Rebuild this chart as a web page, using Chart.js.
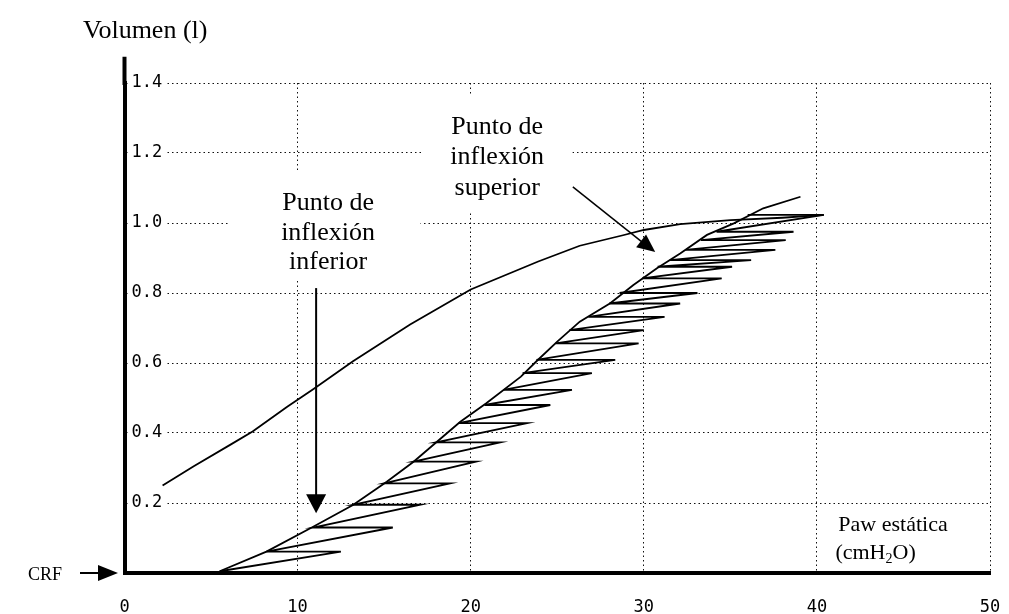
<!DOCTYPE html>
<html><head><meta charset="utf-8">
<script src="https://cdn.jsdelivr.net/npm/chart.js@4.4.1/dist/chart.umd.min.js"></script>
<style>html,body{margin:0;padding:0;background:#fff}</style>
</head><body>
<canvas id="c" width="1009" height="614" style="width:1009px;height:614px;display:block"></canvas>
<script>
// ---- Tick values / labels ----
const xTickValues = [0, 10, 20, 30, 40, 50];
const xTickLabels = ['0', '10', '20', '30', '40', '50'];
const yTickValues = [0.2, 0.4, 0.6, 0.8, 1.0, 1.2, 1.4];
const yTickLabels = ['0.2', '0.4', '0.6', '0.8', '1.0', '1.2', '1.4'];

// ---- Deflation limb (upper curve) ----
const deflationP = [2.2, 4.0, 6.1, 7.4, 9.4, 10.9, 13.2, 16.5, 20.0, 23.9, 26.3, 28.8, 30.0, 32.1, 35.0, 38.0, 40.4];
const deflationV = [0.25, 0.305, 0.366, 0.404, 0.475, 0.525, 0.605, 0.71, 0.81, 0.89, 0.935, 0.965, 0.98, 0.997, 1.008, 1.015, 1.023];

// ---- Inflation limb, static (leading) edge ----
const staticP = [5.5, 8.2, 10.9, 13.2, 15.15, 16.7, 18.05, 19.4, 20.9, 22.9, 23.8, 25.0, 26.3, 28.06, 29.4, 30.76, 32.1, 33.65, 35.2, 36.9, 39.05];
const staticV = [0.005, 0.061, 0.132, 0.194, 0.261, 0.318, 0.375, 0.432, 0.485, 0.561, 0.605, 0.661, 0.718, 0.771, 0.823, 0.871, 0.913, 0.966, 0.999, 1.042, 1.075];

// ---- Inflation steps (sawtooth): volume, static pressure, peak pressure ----
const stepV     = [0.061, 0.130, 0.195, 0.256, 0.318, 0.373, 0.428, 0.48, 0.523, 0.571, 0.609, 0.656, 0.694, 0.732, 0.77, 0.80, 0.842, 0.875, 0.894, 0.923, 0.951, 0.975, 1.023];
const stepLeftP = [8.2, 10.9, 13.2, 15.0, 16.7, 18.0, 19.3, 20.8, 21.9, 23.0, 23.8, 24.9, 25.7, 26.8, 28.0, 28.6, 29.9, 30.8, 31.5, 32.4, 33.3, 34.2, 36.0];
const stepTipP  = [12.5, 15.5, 17.1, 18.8, 20.3, 21.7, 23.25, 24.6, 25.85, 27.0, 28.35, 29.7, 30.0, 31.2, 32.1, 33.1, 34.5, 35.1, 36.2, 37.6, 38.2, 38.65, 40.4];

// ---- build point lists from the arrays ----
const deflationPts = deflationP.map((p, i) => ({x: p, y: deflationV[i]}));
const staticPts = staticP.map((p, i) => ({x: p, y: staticV[i]}));
const sawPts = [{x: staticP[0], y: staticV[0]}];
stepV.forEach((v, i) => { sawPts.push({x: stepTipP[i], y: v}); sawPts.push({x: stepLeftP[i], y: v}); });

const serif = '"Liberation Serif", "Times New Roman", serif';
const mono = '"DejaVu Sans Mono", monospace';

function arrowHead(ctx, x1, y1, x2, y2, len, half) {
  const a = Math.atan2(y2 - y1, x2 - x1);
  ctx.beginPath();
  ctx.moveTo(x2, y2);
  ctx.lineTo(x2 - len * Math.cos(a) + half * Math.sin(a), y2 - len * Math.sin(a) - half * Math.cos(a));
  ctx.lineTo(x2 - len * Math.cos(a) - half * Math.sin(a), y2 - len * Math.sin(a) + half * Math.cos(a));
  ctx.closePath();
  ctx.fill();
}

const annot = {
  id: 'annot',
  beforeDatasetsDraw(chart) {
    const {ctx, scales: {x, y}} = chart;
    ctx.save();
    ctx.fillStyle = '#fff';
    const boxes = [[5.98, 17.1, 1.143, 0.837], [17.25, 25.87, 1.366, 1.029]];
    boxes.forEach(b => {
      const x0 = x.getPixelForValue(b[0]), x1 = x.getPixelForValue(b[1]);
      const y0 = y.getPixelForValue(b[2]), y1 = y.getPixelForValue(b[3]);
      ctx.fillRect(x0, y0, x1 - x0, y1 - y0);
    });
    ctx.restore();
  },
  afterDraw(chart) {
    const {ctx, scales: {x, y}, chartArea} = chart;
    ctx.save();
    ctx.fillStyle = '#000';
    ctx.strokeStyle = '#000';
    ctx.lineWidth = 4;
    ctx.beginPath();
    ctx.moveTo(chartArea.left, y.getPixelForValue(1.4) + 2);
    ctx.lineTo(chartArea.left, y.getPixelForValue(1.475));
    ctx.stroke();

    ctx.font = '26px ' + serif;
    ctx.textBaseline = 'middle';
    ctx.textAlign = 'left';
    ctx.fillText('Volumen (l)', 83, 31);

    ctx.font = '18px ' + serif;
    ctx.textAlign = 'right';
    ctx.fillText('CRF', 62, y.getPixelForValue(0) + 2);
    const yc = y.getPixelForValue(0);
    ctx.lineWidth = 2;
    ctx.beginPath(); ctx.moveTo(80, yc); ctx.lineTo(100, yc); ctx.stroke();
    arrowHead(ctx, 80, yc, 118, yc, 20, 8);

    ctx.font = '22px ' + serif;
    ctx.textAlign = 'left';
    ctx.fillText('Paw estática', x.getPixelForValue(41.24), y.getPixelForValue(0.137));
    let px = x.getPixelForValue(41.07), py = y.getPixelForValue(0.057);
    ctx.fillText('(cmH', px, py); px += ctx.measureText('(cmH').width;
    ctx.font = '14px ' + serif;
    ctx.fillText('2', px, py + 6); px += ctx.measureText('2').width;
    ctx.font = '22px ' + serif;
    ctx.fillText('O)', px, py);

    ctx.font = '26px ' + serif;
    ctx.textAlign = 'center';
    const inf = ['Punto de', 'inflexión', 'inferior'];
    const infY = [1.057, 0.971, 0.889];
    inf.forEach((t, i) => ctx.fillText(t, x.getPixelForValue(11.76), y.getPixelForValue(infY[i])));
    const sup = ['Punto de', 'inflexión', 'superior'];
    const supY = [1.274, 1.189, 1.10];
    sup.forEach((t, i) => ctx.fillText(t, x.getPixelForValue(21.53), y.getPixelForValue(supY[i])));

    ctx.lineWidth = 2;
    let ax1 = x.getPixelForValue(11.07), ay1 = y.getPixelForValue(0.814), ay2 = y.getPixelForValue(0.171);
    ctx.beginPath(); ctx.moveTo(ax1, ay1); ctx.lineTo(ax1, ay2 - 12); ctx.stroke();
    arrowHead(ctx, ax1, ay1, ax1, ay2, 19, 10);

    let bx1 = x.getPixelForValue(25.9), by1 = y.getPixelForValue(1.103);
    let bx2 = x.getPixelForValue(30.66), by2 = y.getPixelForValue(0.917);
    ctx.lineWidth = 1.5;
    ctx.beginPath(); ctx.moveTo(bx1, by1); ctx.lineTo(bx2 - 8, by2 - 6); ctx.stroke();
    arrowHead(ctx, bx1, by1, bx2, by2, 18, 8);
    ctx.restore();
  }
};

const lineDs = (data) => ({
  type: 'scatter', data, showLine: true, borderColor: '#000', borderWidth: 1.8,
  pointRadius: 0, tension: 0, fill: false
});

new Chart(document.getElementById('c'), {
  type: 'scatter',
  data: { datasets: [lineDs(deflationPts), lineDs(staticPts), lineDs(sawPts)] },
  options: {
    responsive: false, animation: false, devicePixelRatio: 1,
    layout: { padding: { top: 83, right: 19, left: 0, bottom: 0 } },
    plugins: { legend: { display: false }, tooltip: { enabled: false } },
    scales: {
      x: {
        type: 'linear', min: 0, max: 50,
        afterFit(s) { s.height = 41; s.paddingLeft = 0; s.paddingRight = 0; },
        afterBuildTicks(s) { s.ticks = xTickValues.map(v => ({value: v})); },
        border: { display: true, color: '#000', width: 4, dash: [1.5, 3] },
        grid: { color: '#111', lineWidth: 1, drawTicks: false, tickLength: 0 },
        ticks: {
          color: '#000', font: { family: mono, size: 17 }, padding: 24, maxRotation: 0,
          callback: (v) => xTickLabels[xTickValues.indexOf(v)]
        }
      },
      y: {
        type: 'linear', min: 0, max: 1.4,
        afterFit(s) { s.width = 124.5; s.paddingTop = 0; s.paddingBottom = 0; },
        afterBuildTicks(s) { s.ticks = yTickValues.map(v => ({value: v})); },
        border: { display: true, color: '#000', width: 4, dash: [1.5, 3] },
        grid: { color: '#111', lineWidth: 1, drawTicks: false, tickLength: 0 },
        ticks: {
          mirror: true, color: '#000', font: { family: mono, size: 17 }, padding: 7,
          showLabelBackdrop: true, backdropColor: '#fff', backdropPadding: {top: 0, bottom: 0, left: 4, right: 3},
          callback: (v) => yTickLabels[yTickValues.indexOf(Math.round(v * 10) / 10)]
        }
      }
    }
  },
  plugins: [annot]
});
</script>
</body></html>
